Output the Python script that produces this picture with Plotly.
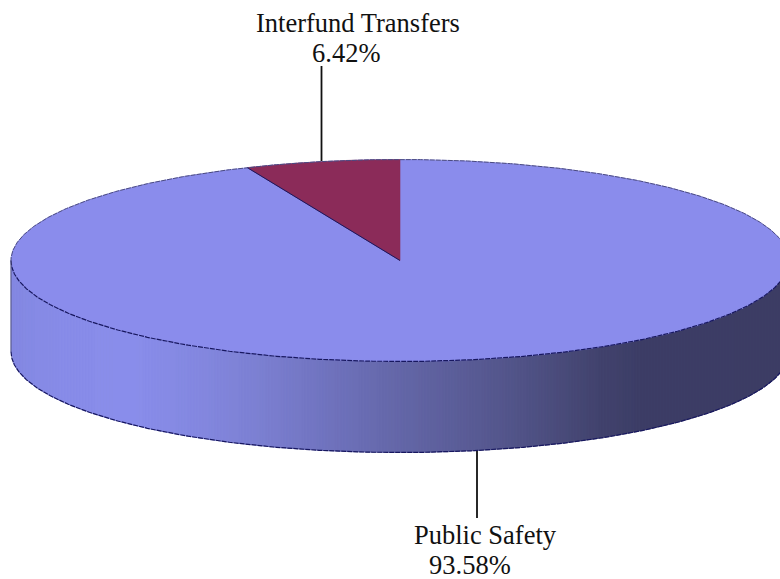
import numpy as np
import plotly.graph_objects as go

categories = ["Interfund Transfers", "Public Safety"]
shares = [6.42, 93.58]
slice_colors = ["#8b2b59", "#8a8cec"]
label_pos = [(358, 23), (485, 535)]
value_pos = [(346, 53), (470, 565)]

CX, CY, RX, RY, DEPTH = 400.0, 260.5, 389.0, 101.0, 91.0
RIM = "#17175f"
shade_x = [11, 60, 130, 200, 260, 330, 400, 470, 540, 600, 640, 780]
shade_r = [132, 136, 138, 132, 124, 112, 100, 90, 78, 66, 61, 60]
shade_g = [136, 140, 142, 136, 128, 115, 103, 92, 80, 67, 62, 61]
shade_b = [226, 232, 236, 224, 210, 190, 168, 150, 130, 110, 103, 100]

fig = go.Figure()

def add_poly(xs, ys, color):
    fig.add_trace(go.Scatter(x=xs, y=ys, mode="lines", fill="toself", fillcolor=color,
                             line=dict(width=0.6, color=color), hoverinfo="skip", showlegend=False))

# side wall as vertical strips
edges = np.arange(11, 792, 3.0)
for a, b in zip(edges[:-1], edges[1:]):
    b = min(b, 789.0)
    xs = np.array([a, b])
    dy = RY * np.sqrt(np.clip(1 - ((xs - CX) / RX) ** 2, 0, 1))
    m = (a + b) / 2
    col = "rgb(%d,%d,%d)" % (np.interp(m, shade_x, shade_r), np.interp(m, shade_x, shade_g), np.interp(m, shade_x, shade_b))
    add_poly([a, b, b, a, a],
             [CY + dy[0], CY + dy[1], CY + DEPTH + dy[1], CY + DEPTH + dy[0], CY + dy[0]], col)

# top face: full ellipse, then slices from the data
t = np.radians(np.linspace(0, 360, 721))
add_poly(list(CX + RX * np.cos(t)), list(CY - RY * np.sin(t)), slice_colors[1])

start = 90.0
sweep = shares[0] / sum(shares) * 360
ts = np.radians(np.linspace(start, start + sweep, 60))
sx = [CX] + list(CX + RX * np.cos(ts)) + [CX]
sy = [CY] + list(CY - RY * np.sin(ts)) + [CY]
add_poly(sx, sy, slice_colors[0])

def rim(xs, ys, width=1.0, dash="solid", color=RIM):
    fig.add_trace(go.Scatter(x=xs, y=ys, mode="lines", line=dict(width=width, color=color, dash=dash),
                             hoverinfo="skip", showlegend=False))

# slice's left edge
rim([CX, sx[-2]], [CY, sy[-2]], 1.0)
# top rim (back half lighter), front rim
tb = np.radians(np.linspace(0, 180, 361))
rim(list(CX + RX * np.cos(tb)), list(CY - RY * np.sin(tb)), 1.0, "5px,1px", "#4a4a80")
tf = np.radians(np.linspace(180, 360, 361))
rim(list(CX + RX * np.cos(tf)), list(CY - RY * np.sin(tf)), 1.2, "5px,1px")
rim(list(CX + RX * np.cos(tf)), list(CY + DEPTH - RY * np.sin(tf)), 1.2, "5px,1px")
rim([CX - RX, CX - RX], [CY, CY + DEPTH], 1.0, "solid", "#55557f")

# leader lines
rim([321.5, 321.5], [66, 161], 1.8, "solid", "#111111")
rim([477, 477], [451, 518], 1.8, "solid", "#111111")

for name, val, lp, vp in zip(categories, shares, label_pos, value_pos):
    for text, p in ((name, lp), ("%.2f%%" % val, vp)):
        fig.add_annotation(x=p[0], y=p[1], text=text, showarrow=False, xanchor="center", yanchor="middle",
                           font=dict(family="Liberation Serif", size=26.5, color="#111111"))

fig.update_layout(width=780, height=579, margin=dict(l=0, r=0, t=0, b=0),
                  paper_bgcolor="white", plot_bgcolor="white", showlegend=False,
                  xaxis=dict(range=[0, 780], visible=False, fixedrange=True),
                  yaxis=dict(range=[579, 0], visible=False, fixedrange=True))
fig.write_html("out.html", config={"displayModeBar": False},
               post_script="document.body.style.margin='0';document.body.style.overflow='hidden';")
